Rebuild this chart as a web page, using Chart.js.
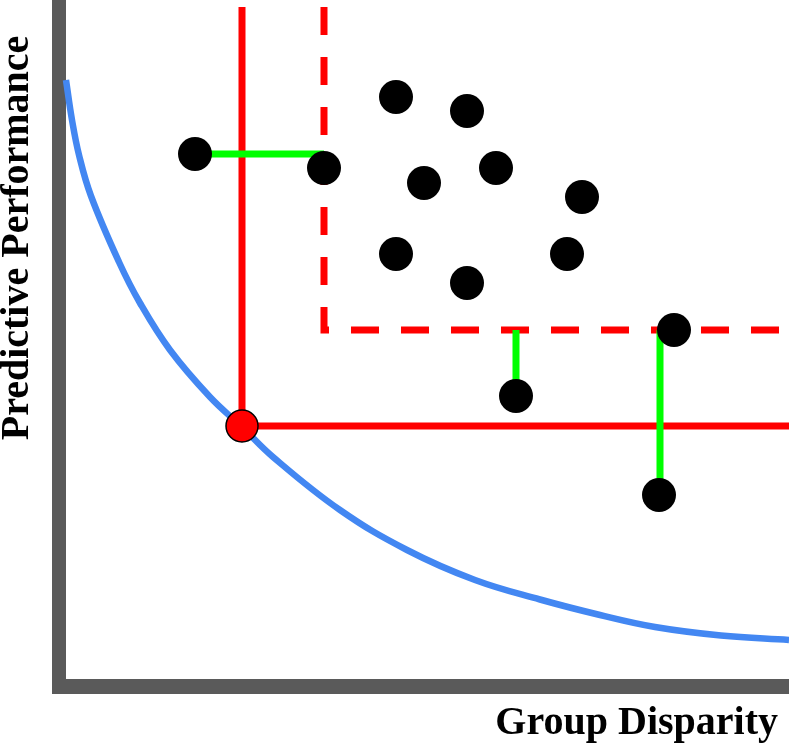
<!DOCTYPE html>
<html>
<head>
<meta charset="utf-8">
<script src="https://cdn.jsdelivr.net/npm/chart.js@4/dist/chart.umd.min.js"></script>
<style>
  html, body { margin: 0; padding: 0; background: #ffffff; }
  #wrap { width: 789px; height: 744px; }
</style>
</head>
<body>
<div id="wrap"><canvas id="c" width="789" height="744"></canvas></div>
<script>
// Axis titles
const xTitle = "Group Disparity";
const yTitle = "Predictive Performance";

// Pareto front curve (disparity, performance)
const frontX = [7, 13, 20, 32, 60, 81, 111, 151, 183, 214, 281, 348, 416, 481, 541, 596, 662, 730];
const frontY = [606, 566, 531, 490, 424, 383, 336, 289, 259, 229, 176, 136, 106, 86.5, 71, 59, 50.5, 46];

// Candidate models (black dots)
const modelX = [136, 265, 337, 408, 365, 437, 523, 337, 408, 508, 457, 615, 600];
const modelY = [532, 518, 589, 575, 503, 518, 489, 432, 403, 432, 290, 356, 191];

// Chosen model on the front (red dot)
const chosenX = [183];
const chosenY = [260];

// Solid red threshold (through chosen model)
const solidX = [183, 183, 730];
const solidY = [679, 260, 260];

// Dashed red threshold
const dashX = [265, 265, 730];
const dashY = [679, 356, 356];

// Green connectors: start and end of each segment
const linkFromX = [136, 457, 601];
const linkFromY = [532, 356, 356];
const linkToX = [265, 457, 601];
const linkToY = [532, 290, 191];

const toPts = (xs, ys) => xs.map((x, i) => ({ x: x, y: ys[i] }));

const datasets = [
  {
    label: 'models', data: toPts(modelX, modelY), order: 0,
    showLine: false, pointRadius: 17, pointHoverRadius: 17,
    pointBackgroundColor: '#000000', pointBorderWidth: 0, pointBorderColor: '#000000'
  },
  {
    label: 'chosen', data: toPts(chosenX, chosenY), order: 1,
    showLine: false, pointRadius: 16, pointHoverRadius: 16,
    pointBackgroundColor: '#ff0000', pointBorderWidth: 1.5, pointBorderColor: '#000000'
  }
];
linkFromX.forEach((fx, i) => {
  datasets.push({
    label: 'link' + i,
    data: [{ x: fx, y: linkFromY[i] }, { x: linkToX[i], y: linkToY[i] }],
    order: 2, showLine: true, borderColor: '#00ff00', borderWidth: 7,
    pointRadius: 0, borderCapStyle: 'butt', clip: false
  });
});
datasets.push({
  label: 'solid', data: toPts(solidX, solidY), order: 3, showLine: true,
  borderColor: '#ff0000', borderWidth: 7, pointRadius: 0,
  borderCapStyle: 'butt', borderJoinStyle: 'miter', clip: false
});
datasets.push({
  label: 'dashed', data: toPts(dashX, dashY), order: 4, showLine: true,
  borderColor: '#ff0000', borderWidth: 7, pointRadius: 0, borderDash: [28, 22],
  borderCapStyle: 'butt', borderJoinStyle: 'miter', clip: false
});
datasets.push({
  label: 'front', data: toPts(frontX, frontY), order: 5, showLine: true,
  borderColor: '#4387f2', borderWidth: 6.5, pointRadius: 0,
  tension: 0.4, borderCapStyle: 'butt'
});

const titlePlugin = {
  id: 'axisTitles',
  afterDraw(chart) {
    const ctx = chart.ctx;
    ctx.save();
    ctx.fillStyle = '#000000';
    ctx.font = 'bold 40px "Liberation Serif", "Times New Roman", serif';
    ctx.textBaseline = 'alphabetic';
    ctx.textAlign = 'right';
    ctx.fillText(xTitle, chart.chartArea.right - 11, chart.height - 10);
    ctx.translate(28, 238);
    ctx.rotate(-Math.PI / 2);
    ctx.textAlign = 'center';
    ctx.fillText(yTitle, 0, 0);
    ctx.restore();
  }
};

new Chart(document.getElementById('c'), {
  type: 'scatter',
  data: { datasets: datasets },
  options: {
    responsive: false,
    animation: false,
    events: [],
    layout: { autoPadding: false, padding: { left: 59, right: 0, top: 0, bottom: 58 } },
    plugins: { legend: { display: false }, tooltip: { enabled: false }, title: { display: false } },
    scales: {
      x: {
        type: 'linear', min: 0, max: 730,
        grid: { display: false, drawTicks: false },
        ticks: { display: false },
        border: { display: true, color: '#5a5a5a', width: 15 },
        title: { display: false }
      },
      y: {
        type: 'linear', min: 0, max: 686,
        grid: { display: false, drawTicks: false },
        ticks: { display: false },
        border: { display: true, color: '#5a5a5a', width: 14 },
        title: { display: false }
      }
    }
  },
  plugins: [titlePlugin]
});
</script>
</body>
</html>
